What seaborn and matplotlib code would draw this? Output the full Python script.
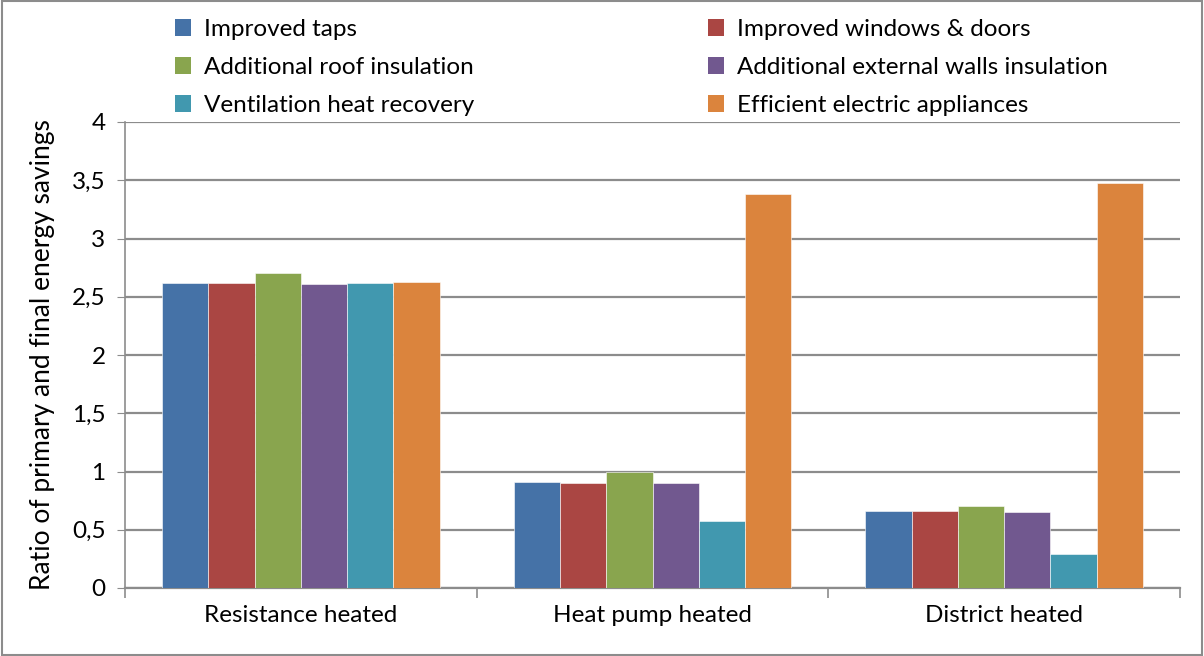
import numpy as np
import pandas as pd
import seaborn as sns
import matplotlib.pyplot as plt
from matplotlib.patches import Rectangle, Patch
from matplotlib.ticker import FuncFormatter, FixedLocator

heating = ["Resistance heated", "Heat pump heated", "District heated"]
measures = [
    "Improved taps",
    "Improved windows & doors",
    "Additional roof insulation",
    "Additional external walls insulation",
    "Ventilation heat recovery",
    "Efficient electric appliances",
]
improved_taps = [2.62, 0.91, 0.66]
windows_doors = [2.62, 0.90, 0.66]
roof_insulation = [2.70, 1.00, 0.70]
walls_insulation = [2.61, 0.905, 0.65]
ventilation = [2.62, 0.575, 0.29]
appliances = [2.63, 3.38, 3.48]
colors = ["#4572A7", "#AA4643", "#89A54E", "#71588F", "#4198AF", "#DB843D"]

series = [improved_taps, windows_doors, roof_insulation, walls_insulation, ventilation, appliances]
rows = []
for m, vals in zip(measures, series):
    for h, v in zip(heating, vals):
        rows.append({"heating": h, "measure": m, "ratio": v})
df = pd.DataFrame(rows)

sns.set_style("white")
plt.rcParams["font.family"] = ["Lato", "DejaVu Sans"]
plt.rcParams["text.color"] = "black"
plt.rcParams["axes.labelcolor"] = "black"
plt.rcParams["xtick.color"] = "black"
plt.rcParams["ytick.color"] = "black"

fig = plt.figure(figsize=(12.04, 6.56), dpi=100)
ax = fig.add_axes([125 / 1204, 1 - 588 / 656, (1180 - 125) / 1204, (588 - 122) / 656])

sns.barplot(data=df, x="heating", y="ratio", hue="measure", hue_order=measures,
            order=heating, palette=colors, width=0.79, gap=0, saturation=1,
            edgecolor="white", linewidth=0.4, legend=False, ax=ax, zorder=3)

ax.set_xlim(-0.5, 2.5)
ax.set_ylim(0, 4)
ax.set_yticks(np.arange(0, 4.01, 0.5))
ax.yaxis.set_major_formatter(FuncFormatter(lambda v, p: f"{v:g}".replace(".", ",")))
ax.yaxis.grid(True, color="#8c8c8c", linewidth=1.6, zorder=0)
ax.set_axisbelow(True)
for s in ["top", "right"]:
    ax.spines[s].set_visible(False)
ax.spines["left"].set_color("#8c8c8c")
ax.spines["bottom"].set_color("#8c8c8c")
ax.spines["left"].set_linewidth(1.2)
ax.spines["bottom"].set_linewidth(1.6)
ax.tick_params(axis="y", which="major", left=True, length=6, color="#8c8c8c",
               labelcolor="black", labelsize=17.5, pad=8)
ax.tick_params(axis="x", which="major", bottom=False, labelcolor="black", labelsize=17.5, pad=9)
ax.xaxis.set_minor_locator(FixedLocator([-0.5, 0.5, 1.5, 2.5]))
ax.tick_params(axis="x", which="minor", bottom=True, length=7, color="#8c8c8c", width=1.2)
ax.set_xlabel("")
ax.set_ylabel("Ratio of primary and final energy savings", fontsize=19, labelpad=12)

handles = [Patch(facecolor=c, edgecolor="none") for c in colors]
order = [0, 2, 4, 1, 3, 5]
fig.legend([handles[i] for i in order], [measures[i] for i in order],
           loc="upper left", bbox_to_anchor=(158 / 1204, 1 - 2 / 656), ncol=2,
           frameon=False, fontsize=17.5, handlelength=0.65, handleheight=0.65,
           handletextpad=0.55, labelspacing=0.7, columnspacing=9.6, borderpad=0.2)

fig.patches.append(Rectangle((0.002, 0.002), 0.996, 0.996, transform=fig.transFigure,
                             fill=False, edgecolor="#8c8c8c", linewidth=1.5))

fig.savefig("out.png", dpi=100)
